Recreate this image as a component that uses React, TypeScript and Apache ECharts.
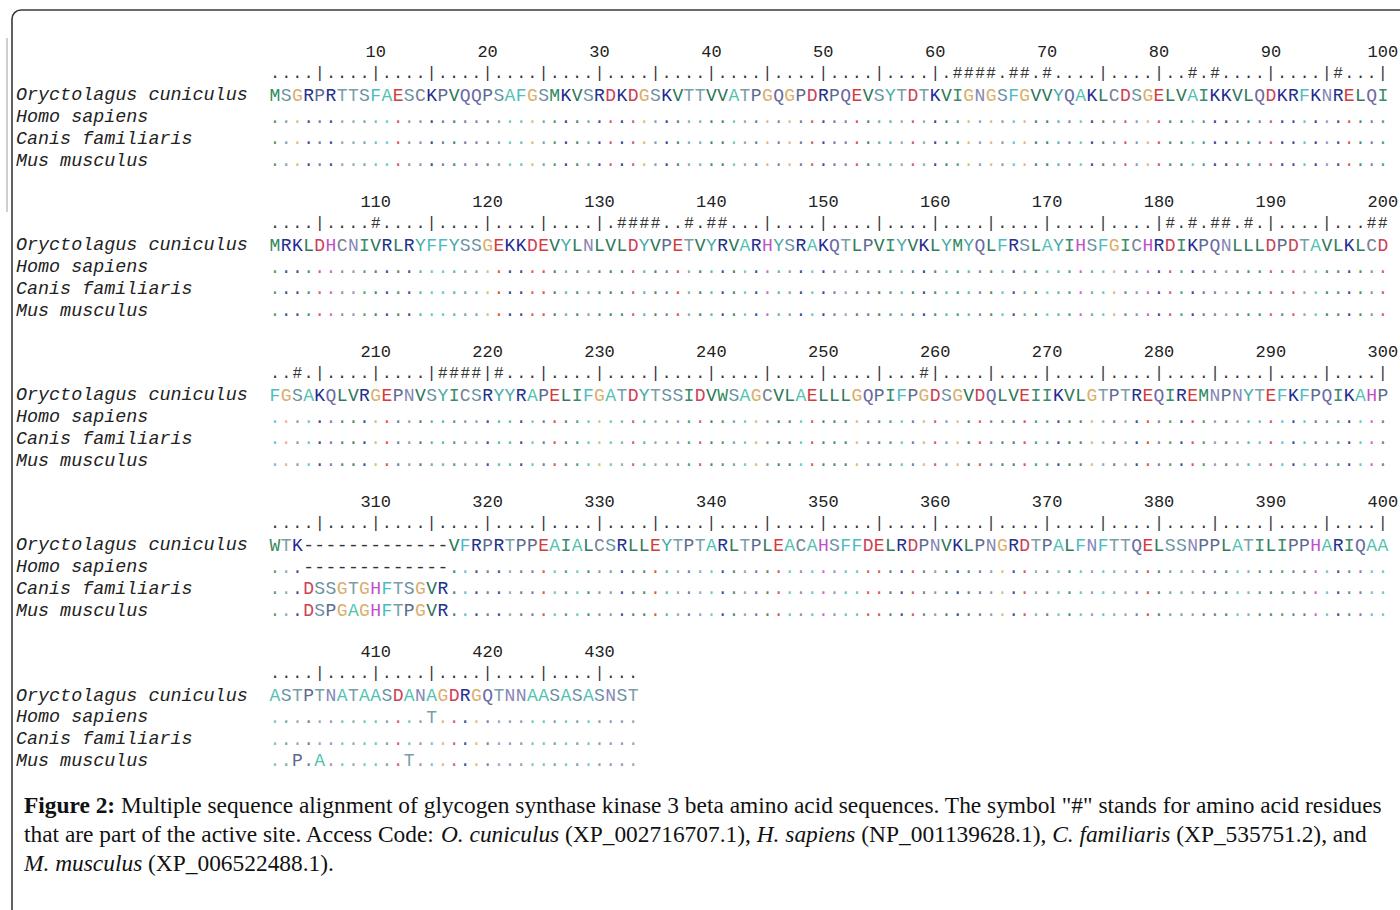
import React, { useEffect, useRef } from "react";
import * as echarts from "echarts";

// ---------- data ----------
const speciesNames = ["Oryctolagus cuniculus", "Homo sapiens", "Canis familiaris", "Mus musculus"];

// reference (O. cuniculus) alignment, 100 columns per block
const referenceBlocks = [
  "MSGRPRTTSFAESCKPVQQPSAFGSMKVSRDKDGSKVTTVVATPGQGPDRPQEVSYTDTKVIGNGSFGVVYQAKLCDSGELVAIKKVLQDKRFKNRELQI",
  "MRKLDHCNIVRLRYFFYSSGEKKDEVYLNLVLDYVPETVYRVARHYSRAKQTLPVIYVKLYMYQLFRSLAYIHSFGICHRDIKPQNLLLDPDTAVLKLCD",
  "FGSAKQLVRGEPNVSYICSRYYRAPELIFGATDYTSSIDVWSAGCVLAELLLGQPIFPGDSGVDQLVEIIKVLGTPTREQIREMNPNYTEFKFPQIKAHP",
  "WTK-------------VFRPRTPPEAIALCSRLLEYTPTARLTPLEACAHSFFDELRDPNVKLPNGRDTPALFNFTTQELSSNPPLATILIPPHARIQAA",
  "ASTPTNATAASDANAGDRGQTNNAASASASNST",
];

// differences from the reference: [start position, residues]
const homoDiffs: [number, string][] = [[304, "-------------"], [415, "T"]];
const canisDiffs: [number, string][] = [[304, "DSSGTGHFTSGVR"]];
const musDiffs: [number, string][] = [[304, "DSPGAGHFTPGVR"], [403, "P"], [405, "A"], [413, "T"]];

// active-site residues marked with "#"
const activeSites = [
  62, 63, 64, 65, 67, 68, 70, 83, 85, 96,
  110, 132, 133, 134, 135, 138, 140, 141, 181, 183, 185, 186, 188, 199, 200,
  203, 216, 217, 218, 219, 221, 259,
];

const tickLabels = [10, 20, 30, 40, 50, 60, 70, 80, 90, 100, 110, 120, 130, 140, 150, 160, 170, 180, 190, 200,
  210, 220, 230, 240, 250, 260, 270, 280, 290, 300, 310, 320, 330, 340, 350, 360, 370, 380, 390, 400, 410, 420, 430];

const residueColors: Record<string, string> = {
  A: "#52c2b2", F: "#4cbcc4", Y: "#45aaa8",
  M: "#2f8a5c", I: "#3a8c68", L: "#347a5a", V: "#2c7656", W: "#388a5e",
  C: "#7a8296", S: "#6a92a2", T: "#7a9ea8",
  N: "#8686b6", Q: "#6a6aa4", P: "#5c6a8e",
  G: "#dcae6c", D: "#cc4256", E: "#d63a3a",
  K: "#1e2890", R: "#22308e", H: "#c050c6",
  "-": "#333333",
};

const captionLines = [
  '{b|Figure 2:} Multiple sequence alignment of glycogen synthase kinase 3 beta amino acid sequences. The symbol "#" stands for amino acid residues',
  "that are part of the active site. Access Code: {i|O. cuniculus} (XP_002716707.1), {i|H. sapiens} (NP_001139628.1), {i|C. familiaris} (XP_535751.2), and",
  "{i|M. musculus} (XP_006522488.1).",
];

// ---------- layout constants ----------
const BLOCK = 100;
const BLOCK_ROWS = 6.9;
const LABEL_COL = -22.15;

type Cell = { col: number; row: number; text: string; color: string; kind: string; opacity?: number };

function buildCells(): Cell[] {
  const cells: Cell[] = [];
  const active = new Set(activeSites);
  const diffMaps = [homoDiffs, canisDiffs, musDiffs].map((list) => {
    const m = new Map<number, string>();
    list.forEach(([start, s]) => s.split("").forEach((ch, i) => m.set(start + i, ch)));
    return m;
  });
  referenceBlocks.forEach((seq, b) => {
    const base = b * BLOCK_ROWS;
    tickLabels
      .filter((t) => t > b * BLOCK && t <= b * BLOCK + seq.length)
      .forEach((t) => cells.push({ col: t - b * BLOCK, row: base, text: String(t), color: "#222", kind: "num" }));
    for (let i = 0; i < seq.length; i++) {
      const pos = b * BLOCK + i + 1;
      const ch = active.has(pos) ? "#" : pos % 5 === 0 ? "|" : ".";
      cells.push({ col: i + 1, row: base + 1, text: ch, color: "#333", kind: "ruler" });
    }
    speciesNames.forEach((name, s) => {
      const row = base + 2 + s;
      cells.push({ col: LABEL_COL, row, text: name, color: "#222", kind: "label" });
      for (let i = 0; i < seq.length; i++) {
        const pos = b * BLOCK + i + 1;
        const ref = seq[i];
        const ch = s === 0 ? ref : diffMaps[s - 1].get(pos) ?? ".";
        const colorKey = ch === "." ? ref : ch;
        cells.push({
          col: i + 1,
          row,
          text: ch,
          color: residueColors[colorKey] || "#333",
          kind: ch === "." ? "dot" : "seq",
          opacity: ch === "." ? 0.85 : 1,
        });
      }
    });
  });
  return cells;
}

export default function App() {
  const ref = useRef<HTMLDivElement>(null);
  useEffect(() => {
    if (!ref.current) return;
    const chart = echarts.init(ref.current, undefined, { renderer: "svg" });
    const cells = buildCells();
    const fontFor = (kind: string) => {
      if (kind === "label") return { fontSize: 18.4, fontStyle: "italic" };
      if (kind === "ruler") return { fontSize: 16, fontStyle: "normal" };
      if (kind === "num") return { fontSize: 17, fontStyle: "normal" };
      return { fontSize: 18, fontStyle: "normal" };
    };
    const capSize = 23.4;
    const option: any = {
      animation: false,
      backgroundColor: "#ffffff",
      grid: { left: 6.44, right: 6.0, top: 30.5, bottom: 118.25 },
      xAxis: { type: "value", min: -23, max: 101, show: false },
      yAxis: { type: "value", min: -1, max: 34, inverse: true, show: false },
      series: [
        {
          type: "custom",
          coordinateSystem: "cartesian2d",
          data: cells.map((c) => [c.col, c.row]),
          renderItem: (params: any, api: any) => {
            const c = cells[params.dataIndex];
            const p = api.coord([c.col, c.row]);
            const f = fontFor(c.kind);
            return {
              type: "text",
              x: p[0],
              y: p[1],
              style: {
                text: c.text,
                fill: c.color,
                opacity: c.opacity ?? 1,
                fontFamily: "Liberation Mono",
                fontSize: f.fontSize,
                fontStyle: f.fontStyle,
                align: c.kind === "label" ? "left" : "center",
                verticalAlign: "middle",
              },
            };
          },
        },
      ],
      graphic: [
        {
          type: "rect",
          shape: { x: 12, y: 10, width: 1420, height: 940, r: 9 },
          style: { fill: "none", stroke: "#3a3a3a", lineWidth: 1.6 },
          silent: true,
        },
        {
          type: "line",
          shape: { x1: 7, y1: 38, x2: 7, y2: 212 },
          style: { stroke: "#cfcfcf", lineWidth: 2 },
          silent: true,
        },
        ...captionLines.map((line, i) => ({
          type: "text",
          x: 24,
          y: 805 + i * 29,
          style: {
            text: line,
            fill: "#111",
            fontFamily: "Liberation Serif",
            fontSize: capSize,
            verticalAlign: "middle",
            align: "left",
            rich: {
              b: { fontFamily: "Liberation Serif", fontSize: capSize, fontWeight: "bold", fill: "#111" },
              i: { fontFamily: "Liberation Serif", fontSize: capSize, fontStyle: "italic", fill: "#111" },
            },
          },
          silent: true,
        })),
      ],
    };
    chart.setOption(option);
    return () => chart.dispose();
  }, []);
  return (
    <div
      ref={ref}
      style={{ position: "absolute", left: 0, top: 0, width: 1400, height: 910, background: "#fff" }}
    />
  );
}
